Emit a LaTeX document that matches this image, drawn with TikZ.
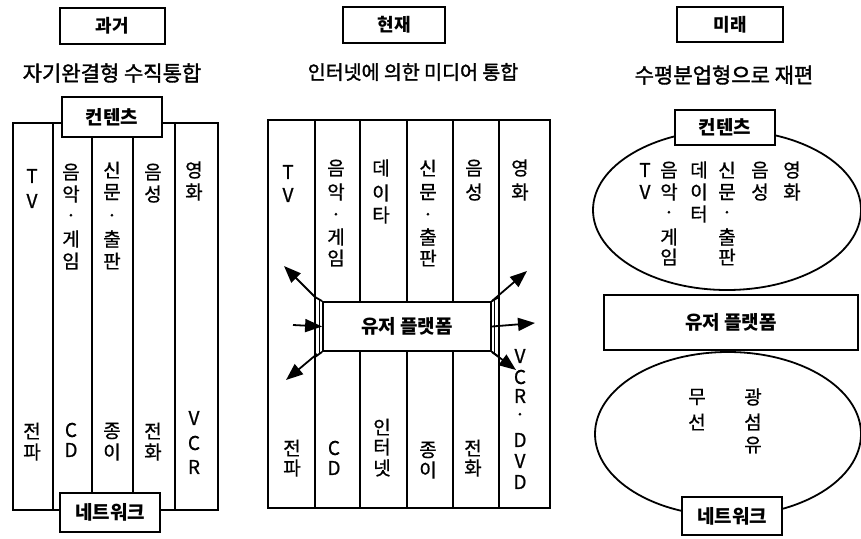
\documentclass[tikz,border=0pt]{standalone}
\usepackage{fontspec}
\setmainfont{Noto Sans CJK KR}
\newfontfamily\kr{Noto Sans CJK KR}
\newfontfamily\krm[FakeBold=0.8]{Noto Sans CJK KR}
\newfontfamily\krh[FakeBold=1.6]{Noto Sans CJK KR}
\usetikzlibrary{arrows.meta,shapes.geometric}
\tikzset{
  frameline/.style={draw, line width=1.8pt},
  titlebox/.style={draw, line width=1.8pt, fill=white, inner sep=0pt,
    font=\kr\bfseries\fontsize{18}{20}\selectfont},
  labelbox/.style={draw, line width=1.8pt, fill=white, inner sep=0pt,
    font=\kr\bfseries\fontsize{19}{21}\selectfont},
  heading/.style={inner sep=0pt, font=\krh\fontsize{21}{24}\selectfont},
  ctext/.style={inner sep=0pt, font=\krm\fontsize{19}{21}\selectfont},
  arr/.style={line width=1.8pt, -{Triangle[length=17pt,width=13pt]}},
  oval/.style={draw, ellipse, line width=1.8pt, inner sep=0pt}
}
\newcommand\vcol[3]{%
  \foreach \ch/\yy [count=\i] in {#3} {\node[ctext] (#1\i) at (#2,\yy) {\ch};}}
\begin{document}
\begin{tikzpicture}[x=1pt,y=-1pt]
\useasboundingbox (0,0) rectangle (861,538);
\fill[white] (0,0) rectangle (861,538);

% ---------------- left panel ----------------
\node[titlebox, minimum width=105pt, minimum height=36pt] (pastT) at (112.5,26) {과거};
\node[heading] (pastH) at (112,73) {자기완결형 수직통합};
\draw[frameline] (13,123) rectangle (218,510);
\foreach \xx in {53,92,133,175} \draw[frameline] (\xx,123) -- (\xx,510);
\node[labelbox, minimum width=100pt, minimum height=40pt] (pastC) at (112,117) {컨텐츠};
\node[labelbox, minimum width=100pt, minimum height=39pt] (pastN) at (110,512.5) {네트워크};
\vcol{la}{32}{T/176, V/201}
\vcol{lb}{71}{음/172, 악/194, ·/218, 게/239, 임/261}
\vcol{lc}{112}{신/170, 문/192, ·/218, 출/239, 판/261}
\vcol{ld}{153}{음/172, 성/194}
\vcol{le}{194}{영/170, 화/192}
\vcol{lf}{32}{전/431, 파/452}
\vcol{lg}{71}{C/430, D/450}
\vcol{lh}{112}{종/431, 이/452}
\vcol{li}{153}{전/431, 화/452}
\vcol{lj}{194}{V/418, C/443, R/467}

% ---------------- middle panel ----------------
\node[titlebox, minimum width=102pt, minimum height=36pt] (nowT) at (394,25) {현재};
\node[heading, font=\krh\fontsize{19.5}{22}\selectfont] (nowH) at (413,72) {인터넷에 의한 미디어 통합};
\draw[frameline] (268,120) rectangle (550,508);
\foreach \xx in {315,360,407,453,499} \draw[frameline] (\xx,120) -- (\xx,508);
\node[labelbox, minimum width=168pt, minimum height=49pt] (nowU) at (407,326.5) {유저 플랫폼};
\coordinate (tl) at (315,297); \coordinate (bl) at (315,357);
\coordinate (tr) at (499,297); \coordinate (br) at (499,357);
\draw[frameline] (tl) -- (nowU.north west);
\draw[frameline] (bl) -- (nowU.south west);
\draw[line width=1.2pt] (319.5,300) -- (319.5,354);
\draw[frameline] (tr) -- (nowU.north east);
\draw[frameline] (br) -- (nowU.south east);
\draw[line width=1.2pt] (494.5,300) -- (494.5,354);
\coordinate (a1) at (284,266); \coordinate (a2s) at (293,325);
\coordinate (a3) at (286,380); \coordinate (a4) at (527,271);
\coordinate (a5) at (535,323); \coordinate (a6) at (516,370);
\draw[arr] (tl) -- (a1);
\draw[arr] (a2s) -- (nowU.west);
\draw[arr] (317,354) -- (a3);
\draw[arr] (nowU.north east) -- (a4);
\draw[arr] (nowU.east) -- (a5);
\draw[arr] (nowU.south east) -- (a6);
\vcol{ma}{288}{T/172, V/195}
\vcol{mb}{336}{음/168, 악/192, ·/217, 게/237, 임/258}
\vcol{mc}{381}{데/168, 이/193, 타/215}
\vcol{md}{428}{신/168, 문/192, ·/217, 출/237, 판/258}
\vcol{me}{474}{음/168, 성/192}
\vcol{mf}{520}{영/168, 화/192}
\vcol{mg}{292}{전/448, 파/468}
\vcol{mh}{334}{C/448, D/468}
\vcol{mi}{382}{인/427, 터/447, 넷/468}
\vcol{mj}{428}{종/450, 이/470}
\vcol{mk}{473}{전/448, 화/468}
\vcol{ml}{520}{V/356, C/377, R/396, ·/417, D/440, V/461, D/482}

% ---------------- right panel ----------------
\node[titlebox, minimum width=106pt, minimum height=35pt] (futT) at (730,24.5) {미래};
\node[heading] (futH) at (724,75) {수평분업형으로 재편};
\node[oval, minimum width=268pt, minimum height=160pt] (futE1) at (727,210) {};
\node[oval, minimum width=266pt, minimum height=164pt] (futE2) at (728,434) {};
\node[labelbox, minimum width=100pt, minimum height=35pt] (futC) at (725,127.5) {컨텐츠};
\node[labelbox, minimum width=254pt, minimum height=55pt] (futU) at (731,322.5) {유저 플랫폼};
\node[labelbox, minimum width=100pt, minimum height=38pt] (futN) at (732,516) {네트워크};
\vcol{ra}{645}{T/170, V/192}
\vcol{rb}{669}{음/170, 악/192, ·/215, 게/237, 임/257}
\vcol{rc}{699}{데/170, 이/192, 터/214}
\vcol{rd}{727}{신/170, 문/192, ·/215, 출/237, 판/257}
\vcol{re}{760}{음/170, 성/192}
\vcol{rf}{792}{영/170, 화/192}
\vcol{rg}{697}{무/397, 선/422}
\vcol{rh}{753}{광/397, 섬/422, 유/445}
\end{tikzpicture}
\end{document}
